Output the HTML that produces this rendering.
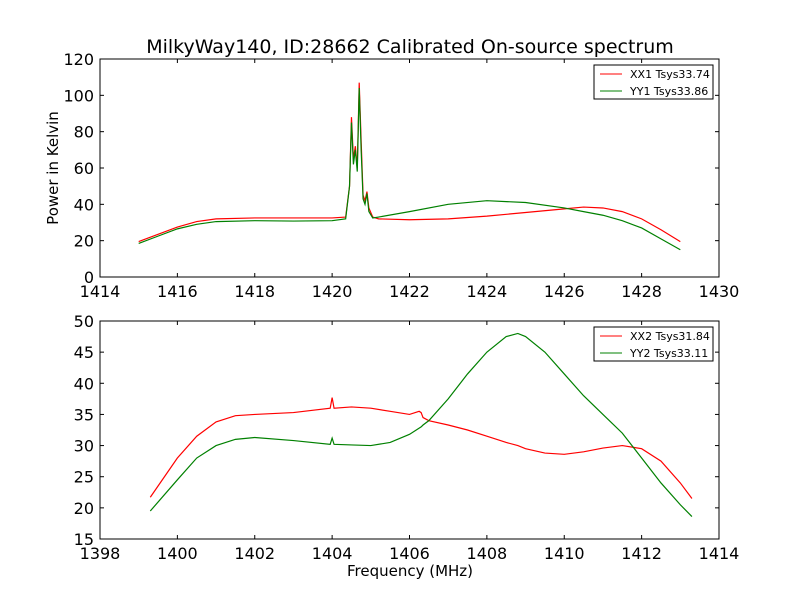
<!DOCTYPE html>
<html><head><meta charset="utf-8"><style>body{margin:0;background:#fff}svg{font-family:"DejaVu Sans","Liberation Sans",sans-serif}</style></head>
<body>
<svg id="c" width="800" height="600">
<rect width="800" height="600" fill="#fff"/>
</svg>
<script>
const freq1=[1415,1415.5,1416,1416.5,1417,1418,1419,1420,1420.35,1420.45,1420.5,1420.55,1420.6,1420.65,1420.7,1420.75,1420.8,1420.85,1420.9,1420.95,1421.05,1421.2,1422,1423,1424,1425,1426,1426.5,1427,1427.5,1428,1428.5,1429];
const xx1=[19.5,23.5,27.5,30.5,32,32.5,32.5,32.5,33,50,88,65,72,60,107,75,45,42,47,38,33,32,31.5,32,33.5,35.5,37.5,38.5,38,36,32,26,19.5];
const yy1=[18.5,22.5,26.5,29,30.5,31,30.8,31,32,50,85,62,70,58,104,70,43,40,46,36,32.5,33,36,40,42,41,38,36,34,31,27,21,15];
const freq2=[1399.3,1400,1400.5,1401,1401.5,1402,1403,1403.95,1404.0,1404.05,1404.5,1405,1405.5,1406,1406.25,1406.3,1406.35,1406.5,1407,1407.5,1408,1408.5,1408.8,1409,1409.5,1410,1410.5,1411,1411.5,1412,1412.5,1413,1413.3];
const xx2=[21.7,28,31.5,33.8,34.8,35,35.3,36,37.7,36,36.2,36,35.5,35,35.5,35.3,34.5,34,33.3,32.5,31.5,30.5,30,29.5,28.8,28.6,29,29.6,30,29.5,27.5,24,21.5];
const yy2=[19.5,24.5,28,30,31,31.3,30.8,30.2,31.2,30.2,30.1,30,30.5,31.8,32.8,33,33.3,34,37.5,41.5,45,47.5,48,47.5,45,41.5,38,35,32,28,24,20.5,18.6];
const xt1=[1414,1416,1418,1420,1422,1424,1426,1428,1430];
const yt1=[0,20,40,60,80,100,120];
const xt2=[1398,1400,1402,1404,1406,1408,1410,1412,1414];
const yt2=[15,20,25,30,35,40,45,50];
const S=document.getElementById('c'),NS='http://www.w3.org/2000/svg';
function mk(t,a,txt){const e=document.createElementNS(NS,t);for(const k in a)e.setAttribute(k,a[k]);if(txt!==undefined)e.textContent=txt;S.appendChild(e);return e;}
function panel(id,top,xmin,xmax,ymin,ymax,xt,yt,fr,a,b,la,lb){
 const L=100,R=719,T=top,B=top+218;
 const X=v=>L+(v-xmin)/(xmax-xmin)*(R-L),Y=v=>B-(v-ymin)/(ymax-ymin)*(B-T);
 xt.forEach(v=>{let e=mk('line',{x1:X(v),x2:X(v),y1:B,y2:B-4,stroke:'#000'});mk('line',{x1:X(v),x2:X(v),y1:T,y2:T+4,stroke:'#000'});
  e=mk('text',{x:X(v),y:B+20,'text-anchor':'middle','font-size':16},v);});
 yt.forEach(v=>{let e=mk('line',{x1:L,x2:L+4,y1:Y(v),y2:Y(v),stroke:'#000'});mk('line',{x1:R,x2:R-4,y1:Y(v),y2:Y(v),stroke:'#000'});
  e=mk('text',{x:L-6,y:Y(v)+6,'text-anchor':'end','font-size':16},v);});
 [[a,'#ff0000','xx'],[b,'#008000','yy']].forEach(([s,c,n])=>{const e=mk('polyline',{points:fr.map((f,i)=>X(f)+','+Y(s[i])).join(' '),fill:'none',stroke:c,'stroke-width':1.2});
  });
 let f=mk('rect',{x:L,y:T,width:R-L,height:B-T,fill:'none',stroke:'#000'});
 let lg=mk('rect',{x:594,y:T+6,width:119,height:34,fill:'#fff',stroke:'#000'});
 [[la,'#ff0000'],[lb,'#008000']].forEach(([t,c],i)=>{const y=T+15+i*17;mk('line',{x1:600,x2:622,y1:y,y2:y,stroke:c});
  const e=mk('text',{x:630,y:y+4,'font-size':11},t);});
}
panel('top',59,1414,1430,0,120,xt1,yt1,freq1,xx1,yy1,'XX1 Tsys33.74','YY1 Tsys33.86');
panel('bottom',321,1398,1414,15,50,xt2,yt2,freq2,xx2,yy2,'XX2 Tsys31.84','YY2 Tsys33.11');
let t=mk('text',{x:410,y:53,'text-anchor':'middle','font-size':19},'MilkyWay140, ID:28662 Calibrated On-source spectrum');
t=mk('text',{x:58,y:168,'text-anchor':'middle','font-size':15,transform:'rotate(-90 58 168)'},'Power in Kelvin');
t=mk('text',{x:410,y:576,'text-anchor':'middle','font-size':15},'Frequency (MHz)');
</script>
</body></html>
